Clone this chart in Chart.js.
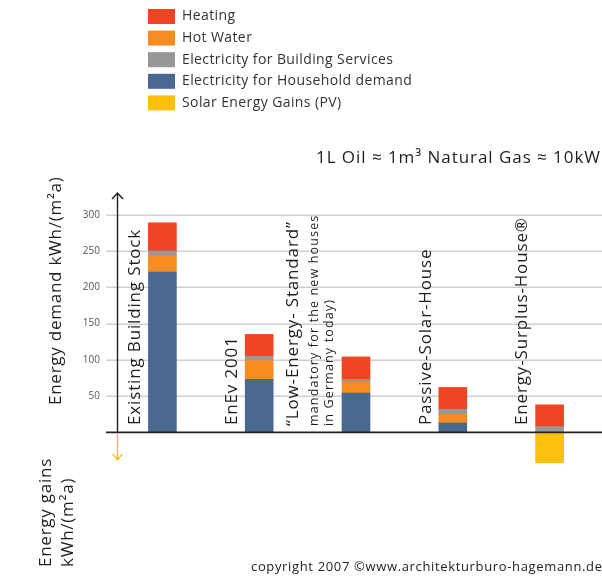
<!DOCTYPE html>
<html>
<head>
<meta charset="utf-8">
<script src="https://cdn.jsdelivr.net/npm/chart.js@4.4.1/dist/chart.umd.min.js"></script>
<style>
  html, body { margin: 0; padding: 0; background: #fff; overflow: hidden; }
  #wrap { width: 602px; height: 576px; }
</style>
</head>
<body>
<div id="wrap"><canvas id="chart" width="602" height="576"></canvas></div>
<script>
// categories and their extra note lines (drawn rotated next to the bars)
const categories = ['Existing Building Stock', 'EnEv 2001', '\u201CLow-Energy- Standard\u201D', 'Passive-Solar-House', 'Energy-Surplus-House\u00AE'];
const categoryNotes = [[], [], ['mandatory for the new houses', 'in Germany today)'], [], []];

// kWh/(m²a)
const householdElectricity = [221, 73, 54, 13, null];
const hotWater = [23, 26, 15, 12, null];
const buildingServices = [6, 6, 4, 7, 8];
const heating = [39, 30, 31, 30, 30];
const solarGains = [null, null, null, null, -42];

const yTicks = [50, 100, 150, 200, 250, 300];

const FONT = '"Open Sans", "Noto Sans", sans-serif';

const datasets = [
  { label: 'Electricity for Household demand', data: householdElectricity, backgroundColor: '#4a6890' },
  { label: 'Hot Water', data: hotWater, backgroundColor: '#f68b22' },
  { label: 'Electricity for Building Services', data: buildingServices, backgroundColor: '#97979a' },
  { label: 'Heating', data: heating, backgroundColor: '#ef4423' },
  { label: 'Solar Energy Gains (PV)', data: solarGains, backgroundColor: '#fdc010' }
];
// legend shows them in this order
const legendOrder = [3, 1, 2, 0, 4];

function rotText(ctx, txt, px, py, size, spacing) {
  ctx.save();
  ctx.translate(px, py);
  ctx.rotate(-Math.PI / 2);
  ctx.font = size + 'px ' + FONT;
  ctx.letterSpacing = spacing + 'px';
  ctx.textAlign = 'left';
  ctx.textBaseline = 'middle';
  ctx.fillText(txt, 0, 0);
  ctx.restore();
}

const decor = {
  id: 'decor',
  beforeDatasetsDraw(chart) {
    const ctx = chart.ctx, y = chart.scales.y;
    ctx.save();
    ctx.strokeStyle = '#cfcfcf';
    ctx.lineWidth = 1.5;
    yTicks.forEach(v => {
      const py = Math.round(y.getPixelForValue(v)) + 0.25;
      ctx.beginPath();
      ctx.moveTo(106, py);
      ctx.lineTo(chart.width, py);
      ctx.stroke();
    });
    ctx.restore();
  },
  afterDraw(chart) {
    const ctx = chart.ctx, x = chart.scales.x, y = chart.scales.y;
    const y0 = y.getPixelForValue(0);
    const ax = 117.5;
    ctx.save();

    // base line
    ctx.strokeStyle = '#222';
    ctx.lineWidth = 1.6;
    ctx.beginPath();
    ctx.moveTo(106, y0); ctx.lineTo(chart.width, y0);
    ctx.stroke();

    // demand arrow (up)
    const yTop = chart.chartArea.top;
    ctx.lineWidth = 1.4;
    ctx.beginPath();
    ctx.moveTo(ax, y0); ctx.lineTo(ax, yTop);
    ctx.moveTo(ax - 5.5, yTop + 6); ctx.lineTo(ax, yTop); ctx.lineTo(ax + 5.5, yTop + 6);
    ctx.stroke();

    // gains arrow (down)
    const yBot = y.getPixelForValue(-38);
    ctx.strokeStyle = '#fdc010';
    ctx.beginPath();
    ctx.moveTo(ax, y0 + 1); ctx.lineTo(ax, yBot);
    ctx.moveTo(ax - 5, yBot - 6); ctx.lineTo(ax, yBot); ctx.lineTo(ax + 5, yBot - 6);
    ctx.stroke();

    // rotated category labels left of each bar
    ctx.fillStyle = '#1e1e1e';
    categories.forEach((name, i) => {
      const left = x.getPixelForValue(i) - 14;
      const notes = categoryNotes[i];
      if (!notes.length) {
        rotText(ctx, name, left - 13, 425, 17, 0.85);
      } else {
        rotText(ctx, name, left - 49, 426, 17, 0.85);
        notes.forEach((n, k) => rotText(ctx, n, left - 28 + k * 15, 426, 12.5, 1.15));
      }
    });

    // axis titles
    rotText(ctx, 'Energy demand kWh/(m\u00B2a)', 56, 405, 17, 0.75);
    rotText(ctx, 'Energy gains', 46, 567, 17, 0.75);
    rotText(ctx, 'kWh/(m\u00B2a)', 68, 567, 17, 0.75);

    ctx.textBaseline = 'middle';
    ctx.textAlign = 'left';

    // unit note (runs off the right edge, as in the original)
    ctx.font = '17px ' + FONT;
    ctx.letterSpacing = '0.95px';
    ctx.fillText('1L Oil \u2248 1m\u00B3 Natural Gas \u2248 10kWh', 316, 158);

    // legend
    ctx.font = '14px ' + FONT;
    ctx.letterSpacing = '0.4px';
    legendOrder.forEach((di, r) => {
      const ds = chart.data.datasets[di];
      const cy = 16.5 + r * 21.6;
      ctx.fillStyle = ds.backgroundColor;
      ctx.fillRect(148, cy - 7.5, 27, 15);
      ctx.fillStyle = '#333';
      ctx.fillText(ds.label, 182, cy);
    });

    // copyright
    ctx.font = '13px ' + FONT;
    ctx.letterSpacing = '0.65px';
    ctx.fillStyle = '#222';
    ctx.fillText('copyright 2007 \u00A9www.architekturburo-hagemann.de', 251, 567);
    ctx.restore();
  }
};

new Chart(document.getElementById('chart'), {
  type: 'bar',
  data: { labels: categories, datasets },
  options: {
    responsive: false,
    animation: false,
    layout: { padding: { top: 193, bottom: 111, left: 0, right: 4 } },
    plugins: { legend: { display: false }, tooltip: { enabled: false } },
    datasets: { bar: { barThickness: 28, borderWidth: 0 } },
    scales: {
      x: { stacked: true, display: false },
      y: {
        stacked: true,
        min: -45,
        max: 330,
        afterFit(scale) { scale.width = 114; },
        grid: { display: false, drawTicks: false },
        border: { display: false },
        ticks: {
          stepSize: 50,
          includeBounds: false,
          padding: 14,
          color: '#555',
          font: { size: 10, family: FONT },
          callback: v => (yTicks.includes(v) ? v : '')
        }
      }
    }
  },
  plugins: [decor]
});
</script>
</body>
</html>
